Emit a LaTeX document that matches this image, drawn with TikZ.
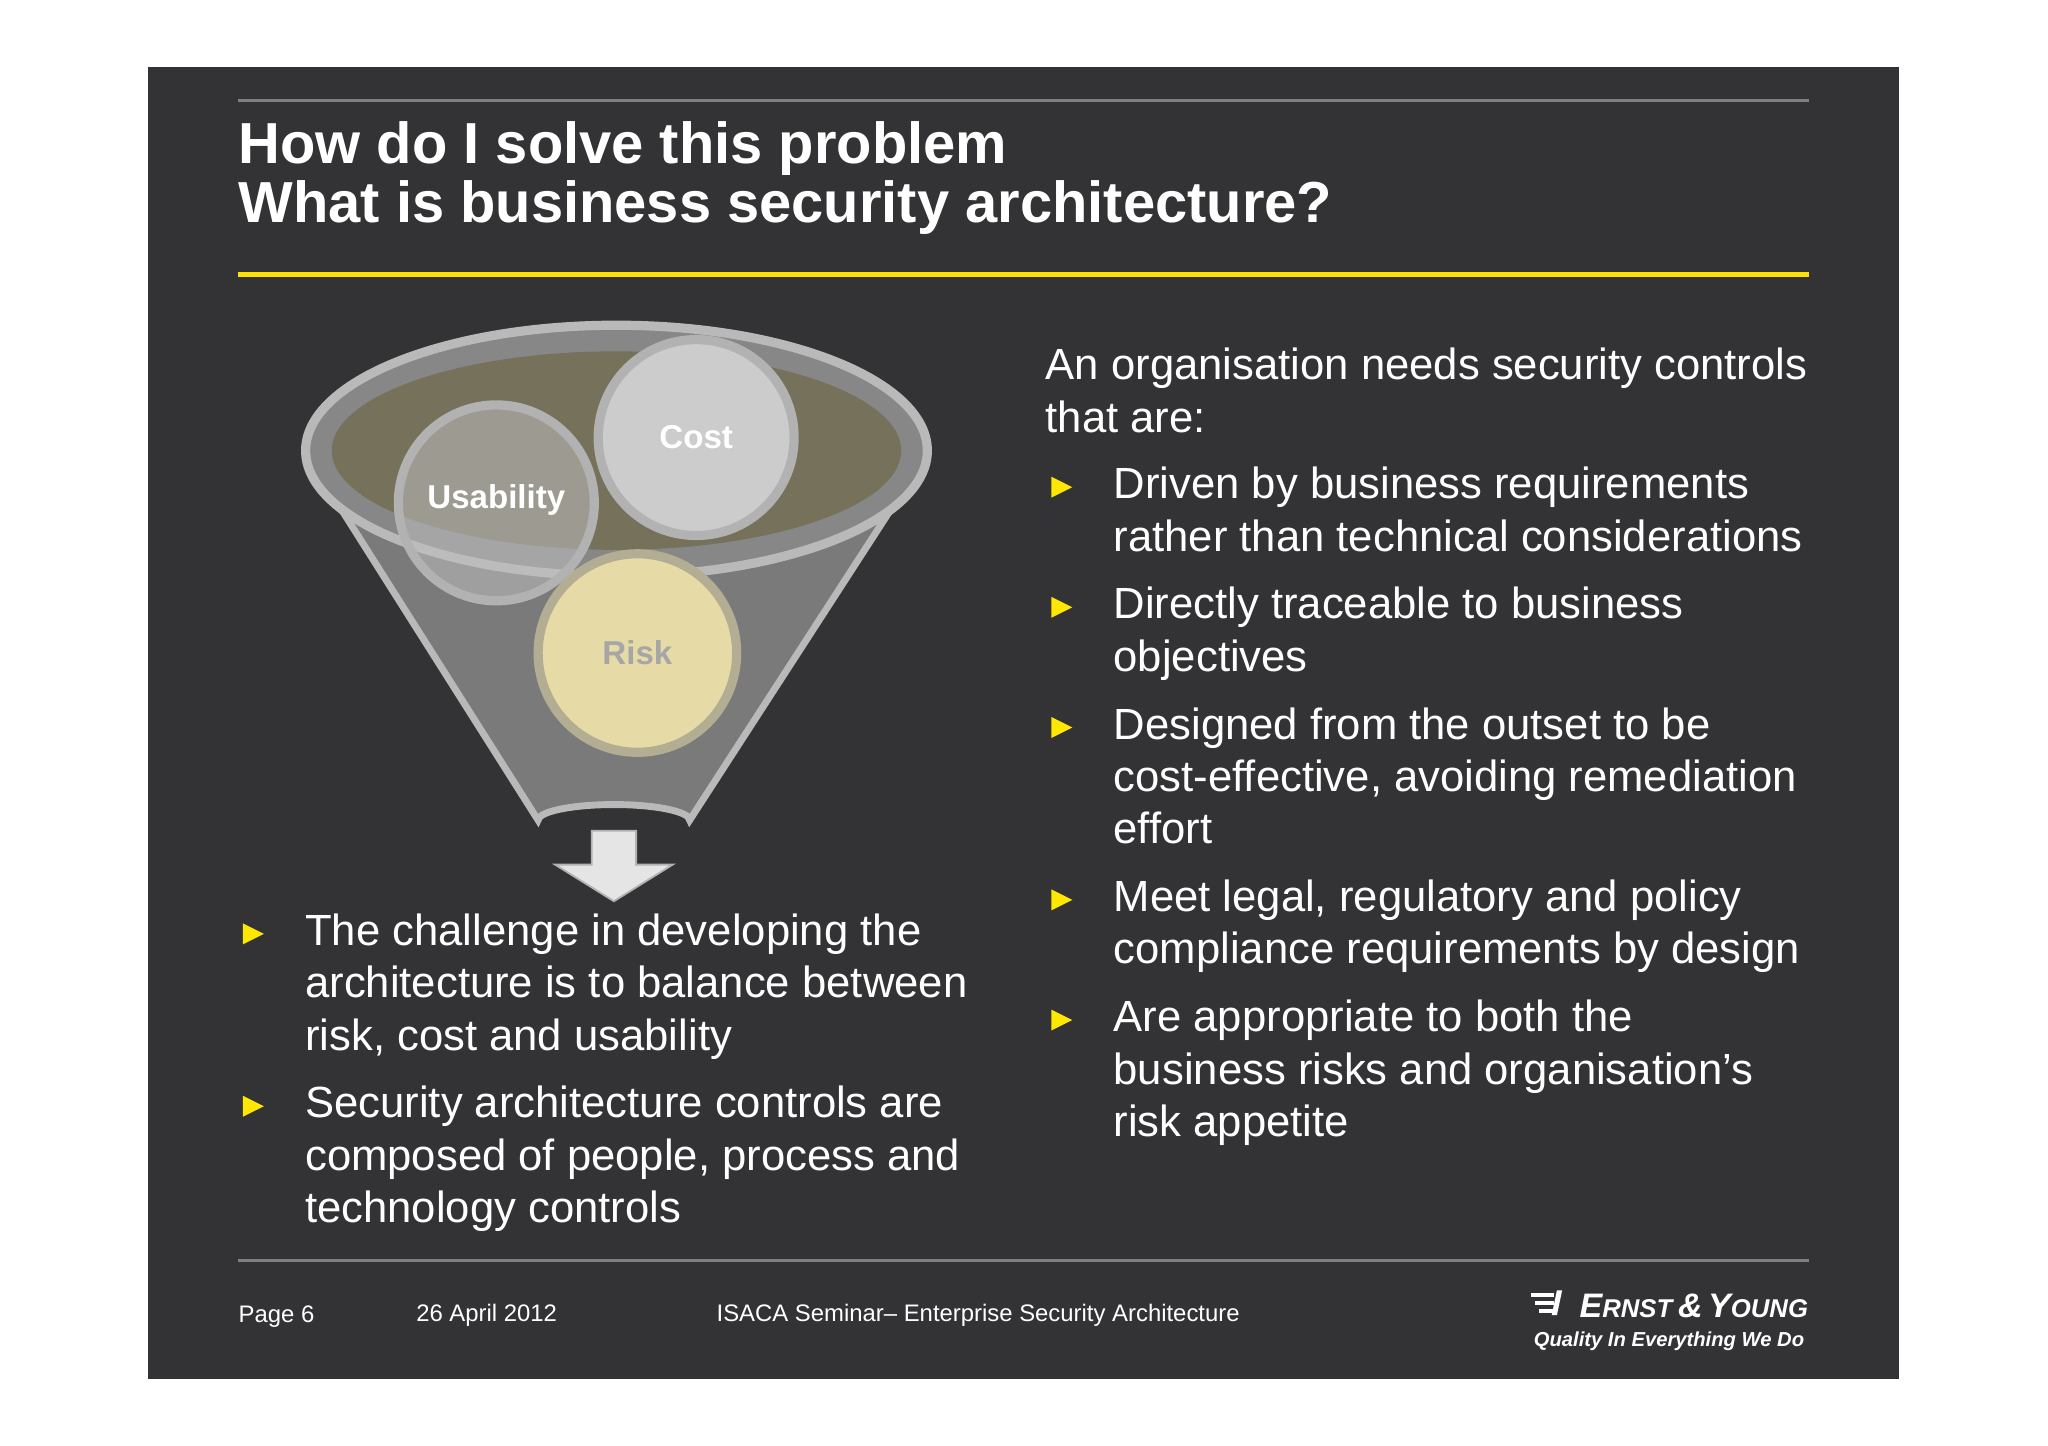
\documentclass[tikz,border=0pt]{standalone}
\usepackage{fontspec}
\setmainfont{Liberation Sans}
\definecolor{slidebg}{HTML}{333335}
\definecolor{riskc}{HTML}{E6DBA6}
\begin{document}
\begin{tikzpicture}[x=0.01cm,y=-0.01cm,
  body/.style={anchor=north west,inner sep=0,text=white,font=\fontsize{9.5}{11.4}\selectfont,align=left},
  bul/.style={fill=yellow!90!orange,draw=none},
  circ/.style={draw=gray!60,line width=2pt}]
\useasboundingbox (0,0) rectangle (1568,1107);
\fill[white] (0,0) rectangle (1568,1107);
\fill[slidebg] (113,51) rectangle (1454,1056);
\draw[gray,line width=0.6pt] (182,77) -- (1385,77);
\draw[yellow!85!orange,line width=1pt] (182,210) -- (1385,210);
\draw[gray,line width=0.6pt] (182,965) -- (1385,965);
\node[body,font=\bfseries\fontsize{12.6}{13}\selectfont] (title) at (182,92) {How do I solve this problem\\What is business security architecture?};
% funnel
\coordinate (ftop) at (472,345);
\fill[gray!70!black!80] (236,350) -- (412,628) arc[start angle=180,end angle=360,x radius=58,y radius=12] -- (708,350) -- cycle;
\draw[gray!55,line width=1.5pt] (236,350) -- (412,628) arc[start angle=180,end angle=360,x radius=58,y radius=12] -- (708,350);
\draw[gray!55,line width=2pt,fill=gray!65!black!70] (ftop) ellipse[x radius=238,y radius=96];
\fill[olive!30!gray!75!black] (ftop) ellipse[x radius=218,y radius=76];
% circles
\draw[circ,fill=gray!40] (533,335) circle[radius=75];
\node[text=white,font=\bfseries\fontsize{7.2}{8}\selectfont] (costt) at (533,335) {Cost};
\draw[circ,fill=gray!50,fill opacity=0.55] (380,385) circle[radius=75];
\node[text=white,font=\bfseries\fontsize{7.2}{8}\selectfont] (usabt) at (380,383) {Usability};
\draw[circ,draw=gray!50!riskc,fill=riskc] (488,500) circle[radius=76];
\node[text=gray!70,font=\bfseries\fontsize{7.2}{8}\selectfont] (riskt) at (488,500) {Risk};
% arrow
\fill[gray!20,draw=gray!60] (453,636) -- (487,636) -- (487,662) -- (515,662) -- (470,690) -- (425,662) -- (453,662) -- cycle;
% right text
\node[body] (intro) at (800,266) {An organisation needs security controls\\that are:};
\foreach \y/\t [count=\i] in {
 357/{Driven by business requirements\\rather than technical considerations},
 449/{Directly traceable to business\\objectives},
 541/{Designed from the outset to be\\cost-effective, avoiding remediation\\effort},
 673/{Meet legal, regulatory and policy\\compliance requirements by design},
 765/{Are appropriate to both the\\business risks and organisation’s\\risk appetite}}{
 \node[body] (r\i) at (852,\y) {\t};
 \fill[bul] (805,\y+8) -- (821,\y+16) -- (805,\y+24) -- cycle;
}
\foreach \y/\t [count=\i] in {
 699/{The challenge in developing the\\architecture is to balance between\\risk, cost and usability},
 831/{Security architecture controls are\\composed of people, process and\\technology controls}}{
 \node[body] (l\i) at (233,\y) {\t};
 \fill[bul] (186,\y+8) -- (202,\y+16) -- (186,\y+24) -- cycle;
}
% footer
\node[body,font=\fontsize{5.2}{6}\selectfont,anchor=west] (pg) at (182,1008) {Page 6};
\node[body,font=\fontsize{5.2}{6}\selectfont,anchor=west] (dt) at (318,1007) {26 April 2012};
\node[body,font=\fontsize{5.2}{6}\selectfont,anchor=west] (sem) at (548,1007) {ISACA Seminar– Enterprise Security Architecture};
\node[body,font=\itshape\bfseries\fontsize{7.4}{8}\selectfont,anchor=east] (ey) at (1385,1000) {E{\fontsize{5.6}{6}\selectfont RNST}\,\&\,Y{\fontsize{5.6}{6}\selectfont OUNG}};
\node[body,font=\itshape\bfseries\fontsize{4.4}{5}\selectfont,anchor=east,text=white] (q) at (1382,1027) {Quality In Everything We Do};
\foreach \k in {0,1,2} \fill[white] (1172+\k*3,990+\k*6) rectangle (1190,993+\k*6);
\fill[white] (1192,988) -- (1196,988) -- (1192,1007) -- (1188,1007) -- cycle;
\end{tikzpicture}
\end{document}
